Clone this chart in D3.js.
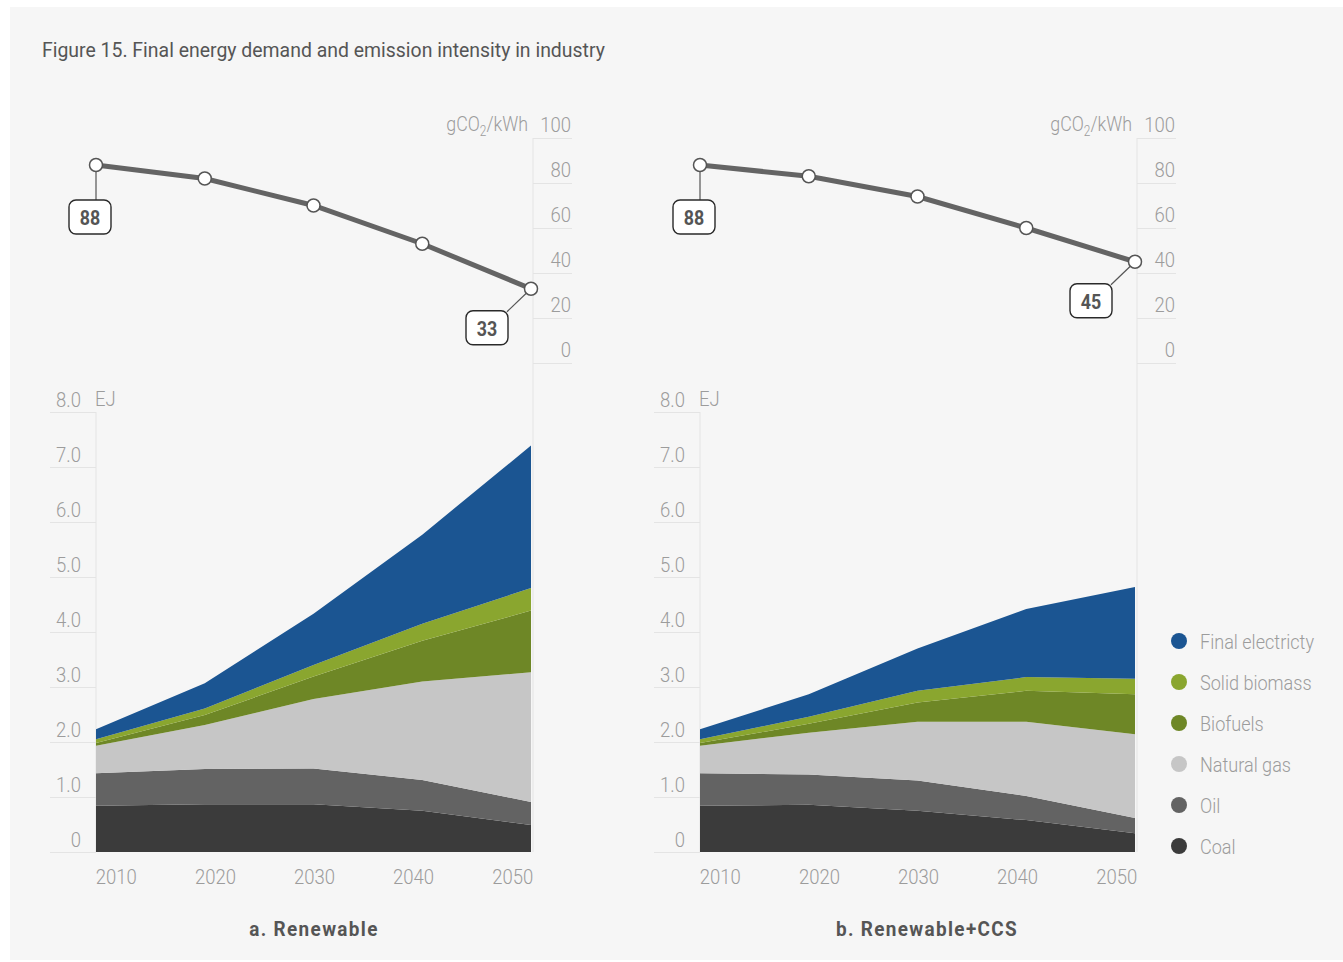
<!DOCTYPE html>
<html><head><meta charset="utf-8">
<script src="https://cdn.jsdelivr.net/npm/d3@7"></script>
<style>
body{margin:0;background:#fff}
svg{display:block}
text{font-family:Roboto,"Liberation Sans",sans-serif}
</style>
</head><body>
<svg id="chart" width="1343" height="962"></svg>
<script>
// ---------- data ----------
const years = [2010, 2020, 2030, 2040, 2050];
const seriesKeys = ["coal", "oil", "gas", "biofuels", "biomass", "electricity"];
const seriesLabels = ["Coal", "Oil", "Natural gas", "Biofuels", "Solid biomass", "Final electricty"];
const seriesColors = ["#3b3b3b", "#636363", "#c6c6c6", "#6e8726", "#8aa62f", "#1b5592"];

// a. Renewable (EJ)
const renCoal        = [0.84, 0.87, 0.87, 0.75, 0.49];
const renOil         = [0.59, 0.64, 0.65, 0.56, 0.42];
const renGas         = [0.50, 0.80, 1.26, 1.79, 2.36];
const renBiofuels    = [0.05, 0.18, 0.41, 0.74, 1.12];
const renBiomass     = [0.07, 0.12, 0.21, 0.31, 0.41];
const renElectricity = [0.18, 0.46, 0.93, 1.62, 2.59];
const renIntensity   = [88, 82, 70, 53, 33];

// b. Renewable+CCS (EJ)
const ccsCoal        = [0.84, 0.86, 0.75, 0.58, 0.34];
const ccsOil         = [0.59, 0.55, 0.55, 0.44, 0.28];
const ccsGas         = [0.50, 0.76, 1.07, 1.35, 1.52];
const ccsBiofuels    = [0.05, 0.16, 0.35, 0.56, 0.73];
const ccsBiomass     = [0.07, 0.13, 0.21, 0.25, 0.28];
const ccsElectricity = [0.18, 0.41, 0.77, 1.24, 1.67];
const ccsIntensity   = [88, 83, 74, 60, 45];

const energyTicks = [0, 1, 2, 3, 4, 5, 6, 7, 8];
const intensityTicks = [0, 20, 40, 60, 80, 100];

const titleText = "Figure 15. Final energy demand and emission intensity in industry";

// ---------- drawing ----------
const svg = d3.select("#chart");
svg.append("rect").attr("x", 10).attr("y", 7).attr("width", 1333).attr("height", 953).attr("fill", "#f6f6f6");

function condense(sel, f) {
  sel.each(function () {
    const len = this.getComputedTextLength();
    if (len > 0) d3.select(this).attr("textLength", len * f).attr("lengthAdjust", "spacingAndGlyphs");
  });
}

const title = svg.append("text").attr("x", 42).attr("y", 57).attr("font-size", 21).attr("fill", "#555")
  .attr("font-weight", 400).text(titleText);
condense(title, 0.925);

const gridColor = "#e4e4e4";
const tickText = "#9c9c9c";
const FS = 21;

function buildTable(coal, oil, gas, bio, bm, el) {
  return years.map((y, i) => ({year: y, coal: coal[i], oil: oil[i], gas: gas[i], biofuels: bio[i], biomass: bm[i], electricity: el[i]}));
}

function drawPanel(ox, table, intensity, subtitle, subX) {
  const g = svg.append("g").attr("transform", `translate(${ox},0)`);
  const x = d3.scaleLinear().domain([2010, 2050]).range([96, 531]);
  const yA = d3.scaleLinear().domain([0, 8]).range([852, 412]);
  const yI = d3.scaleLinear().domain([0, 100]).range([363, 138]);
  const xLab = d3.scalePoint().domain(years).range([96, 532]).padding(0.2);

  // vertical right axis line
  g.append("line").attr("x1", 533).attr("x2", 533).attr("y1", 138).attr("y2", 852)
    .attr("stroke", gridColor).attr("stroke-width", 1);
  // left axis line of area chart
  g.append("line").attr("x1", 96).attr("x2", 96).attr("y1", 412).attr("y2", 852)
    .attr("stroke", gridColor).attr("stroke-width", 1);

  // intensity axis (right)
  const axI = g.append("g").attr("transform", "translate(533,0)")
    .call(d3.axisRight(yI).tickValues(intensityTicks).tickSize(39).tickFormat(d3.format("d")));
  axI.select(".domain").remove();
  axI.selectAll(".tick line").attr("stroke", gridColor);
  const tI = axI.selectAll(".tick text").attr("x", 38).attr("dy", -7).attr("text-anchor", "end")
    .attr("font-size", FS).attr("font-family", null).attr("fill", tickText).attr("font-weight", 300);
  condense(tI, 0.88);
  const unitG = g.append("g").attr("transform", `translate(528,${yI(100) - 7}) scale(0.85,1)`);
  const unit = unitG.append("text").attr("x", 0).attr("y", 0).attr("text-anchor", "end")
    .attr("font-size", FS).attr("fill", tickText).attr("font-weight", 300);
  unit.append("tspan").text("gCO");
  unit.append("tspan").attr("font-size", 14).attr("dy", 5).text("2");
  unit.append("tspan").attr("dy", -5).text("/kWh");

  // energy axis (left)
  const axE = g.append("g").attr("transform", "translate(96,0)")
    .call(d3.axisLeft(yA).tickValues(energyTicks).tickSize(46).tickFormat(d => d === 0 ? "0" : d3.format(".1f")(d)));
  axE.select(".domain").remove();
  axE.selectAll(".tick line").attr("stroke", gridColor);
  const tE = axE.selectAll(".tick text").attr("x", -15).attr("dy", -6).attr("text-anchor", "end")
    .attr("font-size", FS).attr("font-family", null).attr("fill", tickText).attr("font-weight", 300);
  condense(tE, 0.88);
  const ej = g.append("text").attr("x", 95).attr("y", yA(8) - 6).attr("font-size", FS)
    .attr("fill", tickText).attr("font-weight", 300).text("EJ");
  condense(ej, 0.88);

  // stacked areas
  const stack = d3.stack().keys(seriesKeys);
  const layers = stack(table);
  const area = d3.area().x(d => x(d.data.year)).y0(d => yA(d[0])).y1(d => yA(d[1]));
  g.selectAll(".layer").data(layers).join("path")
    .attr("d", area).attr("fill", (d, i) => seriesColors[i]);

  // x labels
  const axX = g.append("g").attr("transform", "translate(0,853)")
    .call(d3.axisBottom(xLab).tickSize(0).tickPadding(0));
  axX.select(".domain").remove();
  const tX = axX.selectAll(".tick text").attr("dy", 31).attr("font-size", FS).attr("font-family", null)
    .attr("fill", tickText).attr("font-weight", 300);
  condense(tX, 0.88);

  // intensity line
  const line = d3.line().x((d, i) => x(years[i])).y(d => yI(d));
  g.append("path").attr("d", line(intensity)).attr("fill", "none").attr("stroke", "#646464")
    .attr("stroke-width", 5);
  // callouts
  const n = intensity.length;
  const p0 = [x(years[0]), yI(intensity[0])];
  const pN = [x(years[n - 1]), yI(intensity[n - 1])];
  g.append("line").attr("x1", p0[0]).attr("y1", p0[1]).attr("x2", p0[0]).attr("y2", p0[1] + 35)
    .attr("stroke", "#555").attr("stroke-width", 1.2);
  g.append("line").attr("x1", pN[0]).attr("y1", pN[1]).attr("x2", pN[0] - 24).attr("y2", pN[1] + 23)
    .attr("stroke", "#555").attr("stroke-width", 1.2);
  g.selectAll(".pt").data(intensity).join("circle")
    .attr("cx", (d, i) => x(years[i])).attr("cy", d => yI(d)).attr("r", 6.5)
    .attr("fill", "#fff").attr("stroke", "#555").attr("stroke-width", 1.5);
  const boxes = [
    {bx: p0[0] - 27, by: p0[1] + 35, v: intensity[0]},
    {bx: pN[0] - 65, by: pN[1] + 22, v: intensity[n - 1]}
  ];
  boxes.forEach(b => {
    g.append("rect").attr("x", b.bx).attr("y", b.by).attr("width", 42).attr("height", 34)
      .attr("rx", 7).attr("fill", "#fff").attr("stroke", "#2a2a2a").attr("stroke-width", 1.4);
    const bt = g.append("text").attr("x", b.bx + 21).attr("y", b.by + 25).attr("text-anchor", "middle")
      .attr("font-size", 21).attr("font-weight", 700).attr("fill", "#555").text(b.v);
    condense(bt, 0.85);
  });

  // subtitle
  const st = g.append("text").attr("x", subX).attr("y", 936).attr("text-anchor", "middle")
    .attr("font-size", 21).attr("font-weight", 700).attr("fill", "#555").attr("letter-spacing", 1.5)
    .text(subtitle);
  condense(st, 0.9);
}

drawPanel(0, buildTable(renCoal, renOil, renGas, renBiofuels, renBiomass, renElectricity), renIntensity, "a. Renewable", 314);
drawPanel(604, buildTable(ccsCoal, ccsOil, ccsGas, ccsBiofuels, ccsBiomass, ccsElectricity), ccsIntensity, "b. Renewable+CCS", 323);

// legend
const legendOrder = [5, 4, 3, 2, 1, 0];
const lg = svg.append("g");
legendOrder.forEach((si, k) => {
  const cy = 641 + k * 41;
  lg.append("circle").attr("cx", 1179).attr("cy", cy).attr("r", 8).attr("fill", seriesColors[si]);
  const lt = lg.append("text").attr("x", 1200).attr("y", cy + 7.5).attr("font-size", FS).attr("font-weight", 300)
    .attr("fill", tickText).text(seriesLabels[si]);
  condense(lt, 0.86);
});
</script>
</body></html>
